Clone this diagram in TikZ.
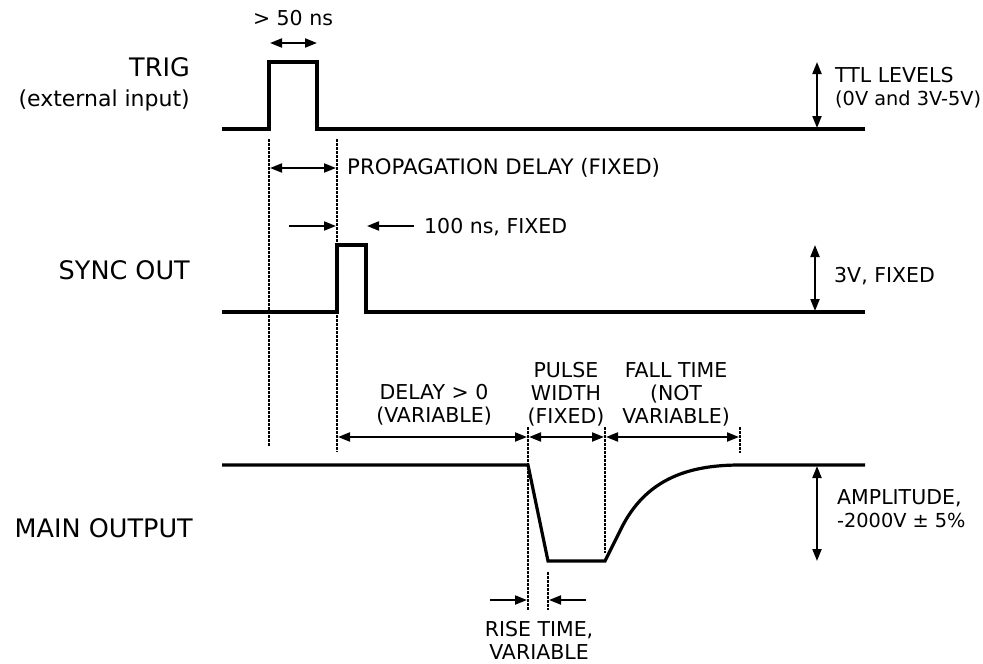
\documentclass[tikz,border=0pt]{standalone}
\usepackage{fontspec}
\setmainfont{DejaVu Sans}
\usetikzlibrary{arrows.meta}
\begin{document}
\begin{tikzpicture}[x=1pt,y=-1pt,
  sig/.style={line width=3.2pt, line join=miter},
  tipk/.tip={Triangle[length=12pt,width=9pt]},
  dim/.style={line width=2pt, tipk-tipk},
  dimr/.style={line width=2pt, -tipk},
  guide/.style={line width=1.8pt, dash pattern=on 2.5pt off 1.5pt},
  lbl/.style={inner sep=0pt, font=\fontsize{20.5}{23}\selectfont, align=center},
  biglbl/.style={inner sep=0pt, font=\fontsize{25.5}{29}\selectfont, align=right, anchor=east},
]
\useasboundingbox (0,0) rectangle (983,664);

% ---------- TRIG ----------
\coordinate (t0) at (222,129); \coordinate (t1) at (269,129);
\coordinate (t2) at (269,62);  \coordinate (t3) at (317,62);
\coordinate (t4) at (317,129); \coordinate (t5) at (865,129);
\draw[sig] (t0) -- (t1) -- (t2) -- (t3) -- (t4) -- (t5);

% ---------- SYNC OUT ----------
\coordinate (s0) at (222,312); \coordinate (s1) at (337,312);
\coordinate (s2) at (337,245); \coordinate (s3) at (366,245);
\coordinate (s4) at (366,312); \coordinate (s5) at (865,312);
\draw[sig] (s0) -- (s1) -- (s2) -- (s3) -- (s4) -- (s5);

% ---------- MAIN OUTPUT ----------
\coordinate (m0) at (222,465); \coordinate (m1) at (528,465);
\coordinate (m2) at (548,561); \coordinate (m3) at (605,561);
\coordinate (m4) at (623,525); \coordinate (m5) at (740,465);
\coordinate (m6) at (865,465);
\draw[sig] (m0) -- (m1) -- (m2) -- (m3) -- (m4)
  .. controls (648,478) and (690,465) .. (m5) -- (m6);

% ---------- dotted guides ----------
\coordinate (g1a) at (269,139); \coordinate (g1b) at (269,447);
\coordinate (g2a) at (337,139); \coordinate (g2b) at (337,452);
\coordinate (g3a) at (528,427); \coordinate (g3b) at (528,610);
\coordinate (g4a) at (548,572); \coordinate (g4b) at (548,610);
\coordinate (g5a) at (605,427); \coordinate (g5b) at (605,553);
\coordinate (g6a) at (740,427); \coordinate (g6b) at (740,453);
\draw[guide] (g1a) -- (g1b);
\draw[guide] (g2a) -- (g2b);
\draw[guide] (g3a) -- (g3b);
\draw[guide] (g4a) -- (g4b);
\draw[guide] (g5a) -- (g5b);
\draw[guide] (g6a) -- (g6b);

% ---------- dimension arrows ----------
\coordinate (w50a) at (270,43); \coordinate (w50b) at (317,43);
\draw[dim] (w50a) -- (w50b);
\coordinate (pda) at (270,168); \coordinate (pdb) at (336,168);
\draw[dim] (pda) -- (pdb);
\coordinate (h1a) at (289,226); \coordinate (h1b) at (336,226);
\coordinate (h2a) at (414,226); \coordinate (h2b) at (367,226);
\draw[dimr] (h1a) -- (h1b);
\draw[dimr] (h2a) -- (h2b);
\coordinate (ttla) at (817,62); \coordinate (ttlb) at (817,128);
\draw[dim] (ttla) -- (ttlb);
\coordinate (v3a) at (815,245); \coordinate (v3b) at (815,311);
\draw[dim] (v3a) -- (v3b);
\coordinate (d1a) at (338,437); \coordinate (d1b) at (527,437);
\coordinate (d2a) at (529,437); \coordinate (d2b) at (604,437);
\coordinate (d3a) at (606,437); \coordinate (d3b) at (739,437);
\draw[dim] (d1a) -- (d1b);
\draw[dim] (d2a) -- (d2b);
\draw[dim] (d3a) -- (d3b);
\coordinate (r1a) at (490,600); \coordinate (r1b) at (527,600);
\coordinate (r2a) at (586,600); \coordinate (r2b) at (549,600);
\draw[dimr] (r1a) -- (r1b);
\draw[dimr] (r2a) -- (r2b);
\coordinate (ampa) at (817,466); \coordinate (ampb) at (817,561);
\draw[dim] (ampa) -- (ampb);

% ---------- labels ----------
\node[biglbl] (ltrig) at (190,84) {TRIG\\[1pt]{\fontsize{22}{25}\selectfont (external input)}};
\node[biglbl] (lsync) at (190,270) {SYNC OUT};
\node[biglbl] (lmain) at (193,528) {MAIN OUTPUT};

\node[lbl, font=\fontsize{20.5}{22}\selectfont] (x50) at (293,18) {> 50 ns};
\node[lbl, anchor=west, font=\fontsize{21.3}{23}\selectfont] (xprop) at (347,168) {PROPAGATION DELAY (FIXED)};
\node[lbl, anchor=west] (x100) at (424,227) {100 ns, FIXED};
\node[lbl, anchor=west, align=left] (xttl) at (835,88) {TTL LEVELS\\{\fontsize{19.3}{23}\selectfont (0V and 3V-5V)}};
\node[lbl, anchor=west] (x3v) at (834,276) {3V, FIXED};
\node[lbl] (xdelay) at (434,405) {DELAY > 0\\(VARIABLE)};
\node[lbl] (xpw) at (566,394) {PULSE\\WIDTH\\(FIXED)};
\node[lbl] (xfall) at (676,394) {FALL TIME\\(NOT\\VARIABLE)};
\node[lbl] (xrise) at (539,640) {RISE TIME,\\VARIABLE};
\node[lbl, anchor=west, align=left] (xamp) at (837,509) {AMPLITUDE,\\{\fontsize{19.3}{23}\selectfont -2000V ± 5\%}};
\end{tikzpicture}
\end{document}
